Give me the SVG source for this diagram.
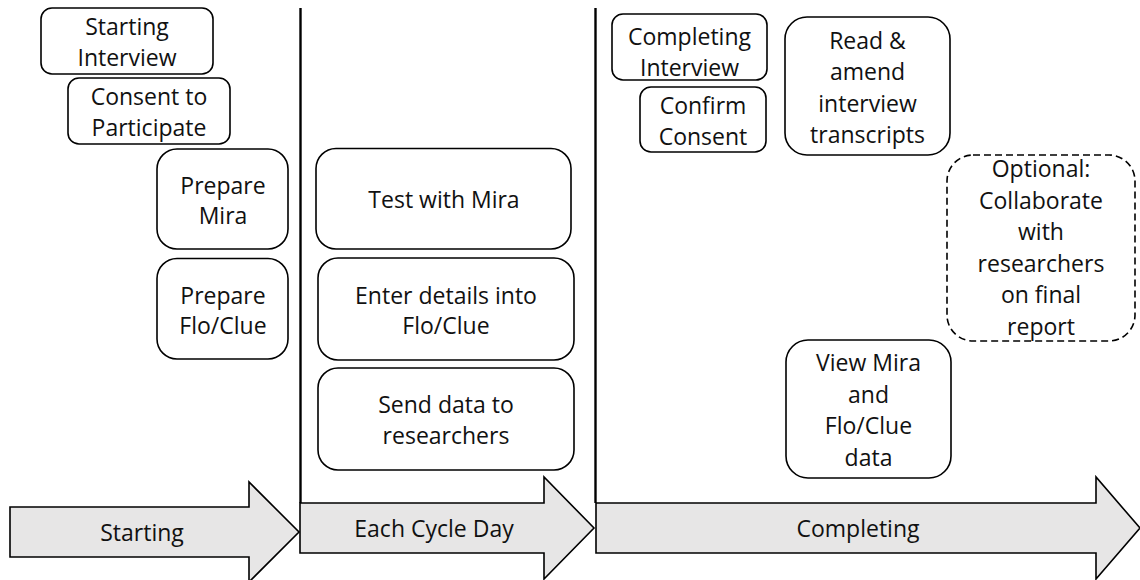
<svg xmlns="http://www.w3.org/2000/svg" width="1140" height="580" viewBox="0 0 1140 580">
<style>
.box{fill:#fff;stroke:#000;stroke-width:1.6}
.dash{fill:#fff;stroke:#000;stroke-width:1.6;stroke-dasharray:7 4}
.arr{fill:#e7e6e6;stroke:#000;stroke-width:1.6;stroke-linejoin:miter}
.sep{stroke:#000;stroke-width:2.4;fill:none}
text{font-family:"Open Sans","Liberation Sans",sans-serif;font-size:23px;fill:#111;text-anchor:middle}
</style>
<rect width="1140" height="580" fill="#fff"/>
<g id="phases">
  <g id="phase-starting">
    <polygon class="arr" points="10,507 249,507 249,482 299,532 249,582 249,557 10,557"/>
    <text x="142" y="541">Starting</text>
  </g>
  <g id="phase-cycle">
    <polygon class="arr" points="300,503 544,503 544,477 594,528 544,579 544,553 300,553"/>
    <text x="434" y="537">Each Cycle Day</text>
  </g>
  <g id="phase-completing">
    <polygon class="arr" points="596,503 1096,503 1096,477 1140,528 1096,579 1096,553 596,553"/>
    <text x="858" y="537">Completing</text>
  </g>
</g>
<g id="connectors">
  <line class="sep" x1="300.5" y1="8" x2="300.5" y2="503"/>
  <line class="sep" x1="595.5" y1="8" x2="595.5" y2="503"/>
</g>
<g id="starting-interview">
  <rect class="box" x="41" y="8" width="172" height="66" rx="11"/>
  <text x="127" y="35">Starting</text>
  <text x="127" y="65.5">Interview</text>
</g>
<g id="consent">
  <rect class="box" x="68" y="78" width="162" height="66" rx="11"/>
  <text x="149" y="105">Consent to</text>
  <text x="149" y="135.5">Participate</text>
</g>
<g id="prepare-mira">
  <rect class="box" x="157" y="149" width="131" height="100" rx="20"/>
  <text x="223" y="193.5">Prepare</text>
  <text x="223" y="224">Mira</text>
</g>
<g id="prepare-flo">
  <rect class="box" x="157" y="258.5" width="131" height="100.5" rx="20"/>
  <text x="223" y="303.5">Prepare</text>
  <text x="223" y="333.5">Flo/Clue</text>
</g>
<g id="test-mira">
  <rect class="box" x="316" y="148.5" width="255" height="100.5" rx="20"/>
  <text x="444" y="208">Test with Mira</text>
</g>
<g id="enter-details">
  <rect class="box" x="318" y="258" width="256" height="102" rx="20"/>
  <text x="446" y="303.5">Enter details into</text>
  <text x="446" y="334">Flo/Clue</text>
</g>
<g id="send-data">
  <rect class="box" x="318" y="368" width="256" height="102" rx="20"/>
  <text x="446" y="412.5">Send data to</text>
  <text x="446" y="443.5">researchers</text>
</g>
<g id="completing-interview">
  <rect class="box" x="612" y="14" width="155" height="66" rx="11"/>
  <text x="689.5" y="44.5">Completing</text>
  <text x="689.5" y="75.5">Interview</text>
</g>
<g id="confirm-consent">
  <rect class="box" x="640" y="87" width="126" height="65" rx="11"/>
  <text x="703" y="113.5">Confirm</text>
  <text x="703" y="144.5">Consent</text>
</g>
<g id="read-amend">
  <rect class="box" x="785" y="17" width="165" height="138" rx="22"/>
  <text x="867.5" y="48.5">Read &amp;</text>
  <text x="867.5" y="80">amend</text>
  <text x="867.5" y="111.5">interview</text>
  <text x="867.5" y="143">transcripts</text>
</g>
<g id="optional-collaborate">
  <rect class="dash" x="947" y="155" width="188" height="186" rx="26"/>
  <text x="1041" y="177">Optional:</text>
  <text x="1041" y="208.5">Collaborate</text>
  <text x="1041" y="240">with</text>
  <text x="1041" y="271.5">researchers</text>
  <text x="1041" y="303">on final</text>
  <text x="1041" y="334.5">report</text>
</g>
<g id="view-data">
  <rect class="box" x="786" y="340" width="165" height="138" rx="22"/>
  <text x="868.5" y="370.5">View Mira</text>
  <text x="868.5" y="402.5">and</text>
  <text x="868.5" y="434">Flo/Clue</text>
  <text x="868.5" y="466">data</text>
</g>
</svg>
